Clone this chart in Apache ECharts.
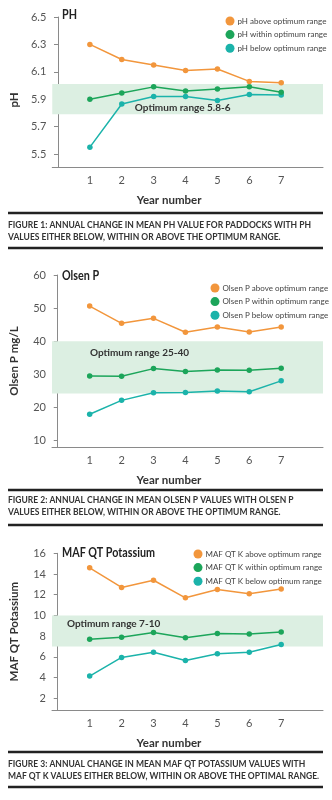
<!DOCTYPE html>
<html><head><meta charset="utf-8">
<script src="https://cdn.jsdelivr.net/npm/echarts@6/dist/echarts.min.js"></script>
<style>html,body{margin:0;padding:0;background:#fff}#c{width:332px;height:800px}</style>
</head><body><div id="c"></div>
<script>
const years = [1, 2, 3, 4, 5, 6, 7];

const phAbove  = [6.30, 6.19, 6.15, 6.11, 6.12, 6.03, 6.02];
const phWithin = [5.90, 5.945, 5.99, 5.96, 5.975, 5.99, 5.95];
const phBelow  = [5.55, 5.865, 5.92, 5.92, 5.89, 5.935, 5.93];
const phBand   = [5.79, 6.01];
const phTicks  = [5.5, 5.7, 5.9, 6.1, 6.3, 6.5];

const olsenAbove  = [50.6, 45.4, 46.9, 42.7, 44.3, 42.8, 44.3];
const olsenWithin = [29.5, 29.4, 31.7, 30.8, 31.3, 31.2, 31.8];
const olsenBelow  = [17.9, 22.1, 24.4, 24.5, 24.9, 24.7, 28.0];
const olsenBand   = [24.2, 40];
const olsenTicks  = [10, 20, 30, 40, 50, 60];

const kAbove  = [14.6, 12.7, 13.4, 11.7, 12.5, 12.1, 12.55];
const kWithin = [7.7, 7.9, 8.35, 7.85, 8.25, 8.2, 8.4];
const kBelow  = [4.15, 5.95, 6.45, 5.65, 6.3, 6.45, 7.2];
const kBand   = [7, 10];
const kTicks  = [2, 4, 6, 8, 10, 12, 14, 16];

const titles = ['PH', 'Olsen P', 'MAF QT Potassium'];
const yNames = ['pH', 'Olsen P mg/L', 'MAF QT Potassium'];
const bandLabels = ['Optimum range 5.8-6', 'Optimum range 25-40', 'Optimum range 7-10'];
const legendNames = [
  ['pH above optimum range', 'pH within optimum range', 'pH below optimum range'],
  ['Olsen P above optimum range', 'Olsen P within optimum range', 'Olsen P below optimum range'],
  ['MAF QT K above optimum range', 'MAF QT K within optimum range', 'MAF QT K below optimum range']
];
const captions = [
  ['FIGURE 1: ANNUAL CHANGE IN MEAN PH VALUE FOR PADDOCKS WITH PH', 'VALUES EITHER BELOW, WITHIN OR ABOVE THE OPTIMUM RANGE.'],
  ['FIGURE 2: ANNUAL CHANGE IN MEAN OLSEN P VALUES WITH OLSEN P', 'VALUES EITHER BELOW, WITHIN OR ABOVE THE OPTIMUM RANGE.'],
  ['FIGURE 3: ANNUAL CHANGE IN MEAN MAF QT POTASSIUM VALUES WITH', 'MAF QT K VALUES EITHER BELOW, WITHIN OR ABOVE THE OPTIMAL RANGE.']
];

const colors = ['#f2963c', '#1ca55a', '#1bb3aa'];
const FONT = 'Lato';

// text measurement helper (for fitting condensed-looking text widths)
const mctx = document.createElement('canvas').getContext('2d');
function textWidth(text, font) { mctx.font = font; return mctx.measureText(text).width; }

const capFont = 'bold 9.5px Lato';
const capScale = 303 / textWidth(captions[0][0], capFont);
const titleFont = 'bold 13px Lato';
const titleScale = 93 / textWidth(titles[2], titleFont);
const legendSize = 8;

const panels = [
  {data: [phAbove, phWithin, phBelow], band: phBand, ticks: phTicks, min: 5.405, max: 6.5,
   top: 17, height: 150, legendTop: 11.5, legendLeft: 220.5, titleY: 15, namePad: [0, 16, 0, 0],
   bandPos: ['30.5%', '80%'], sepY: [213, 248], capY: 225},
  {data: [olsenAbove, olsenWithin, olsenBelow], band: olsenBand, ticks: olsenTicks, min: 8, max: 60,
   top: 275, height: 172, legendTop: 278.5, legendLeft: 205.5, titleY: 276, namePad: 0,
   bandPos: ['14%', '23%'], sepY: [490, 525], capY: 500},
  {data: [kAbove, kWithin, kBelow], band: kBand, ticks: kTicks, min: 0.87, max: 16,
   top: 553.3, height: 156.7, legendTop: 544.5, legendLeft: 188.5, titleY: 553, namePad: 0,
   bandPos: ['5.5%', '28%'], sepY: [752, 787], capY: 763.5}
];

const grid = [], xAxis = [], yAxis = [], series = [], legend = [], graphic = [];

panels.forEach((p, i) => {
  grid.push({left: 50, width: 273, top: p.top, height: p.height});
  xAxis.push({
    type: 'value', gridIndex: i, min: -0.18, max: 8.31,
    name: 'Year number', nameLocation: 'middle', nameGap: 27,
    nameTextStyle: {fontFamily: FONT, fontWeight: 'bold', fontSize: 11.5, color: '#333', padding: [0, 37, 0, 0]},
    axisLine: {lineStyle: {color: '#8a8a8a', width: 1}},
    axisTick: {show: false},
    splitLine: {show: false},
    axisLabel: {customValues: years, fontFamily: FONT, fontSize: 11, color: '#555', margin: 8}
  });
  yAxis.push({
    type: 'value', gridIndex: i, min: p.min, max: p.max,
    name: yNames[i], nameLocation: 'middle', nameGap: 32, nameRotate: 90,
    nameTextStyle: {fontFamily: FONT, fontWeight: 'bold', fontSize: 11.5, color: '#333', padding: p.namePad},
    axisLine: {show: true, lineStyle: {color: '#8a8a8a', width: 1}},
    axisTick: {show: true, customValues: p.ticks, length: 4, lineStyle: {color: '#8a8a8a'}},
    splitLine: {show: false},
    axisLabel: {customValues: p.ticks, fontFamily: FONT, fontSize: 11, color: '#555', margin: 6}
  });
  p.data.forEach((arr, k) => {
    const s = {
      name: legendNames[i][k], type: 'line', xAxisIndex: i, yAxisIndex: i,
      data: years.map((y, j) => [y, arr[j]]),
      symbol: 'circle', symbolSize: 5.5, color: colors[k],
      lineStyle: {width: 1.5, color: colors[k]},
      itemStyle: {color: colors[k]},
      z: 3 + (2 - k)
    };
    if (k === 0) {
      s.markArea = {
        silent: true,
        itemStyle: {color: '#dcefe2'},
        label: {show: true, position: p.bandPos, align: 'left', verticalAlign: 'middle',
                fontFamily: FONT, fontWeight: 'bold', fontSize: 10, color: '#333'},
        data: [[{yAxis: p.band[0], name: bandLabels[i]}, {yAxis: p.band[1]}]]
      };
    }
    series.push(s);
  });
  legend.push({
    data: legendNames[i], orient: 'vertical', left: p.legendLeft, top: p.legendTop,
    icon: 'circle', itemWidth: 9, itemHeight: 9, itemGap: 4.6,
    textStyle: {fontFamily: FONT, fontSize: legendSize, color: '#444', padding: [0, 0, 0, -2]},
    selectedMode: false
  });
  graphic.push({type: 'text', x: 62, y: p.titleY, scaleX: titleScale,
    style: {text: titles[i], font: titleFont, fill: '#222', textVerticalAlign: 'middle'}, silent: true});
  p.sepY.forEach(y => {
    graphic.push({type: 'rect', shape: {x: 8, y: y - 1.25, width: 315, height: 2.5},
      style: {fill: '#222'}, silent: true});
  });
  captions[i].forEach((line, j) => {
    graphic.push({type: 'text', x: 8, y: p.capY + j * 12, scaleX: capScale,
      style: {text: line, font: capFont, fill: '#333', textVerticalAlign: 'middle'},
      silent: true});
  });
});

const chart = echarts.init(document.getElementById('c'), null, {renderer: 'canvas'});
chart.setOption({
  animation: false,
  backgroundColor: '#fff',
  grid, xAxis, yAxis, series, legend, graphic
});
</script>
</body></html>
